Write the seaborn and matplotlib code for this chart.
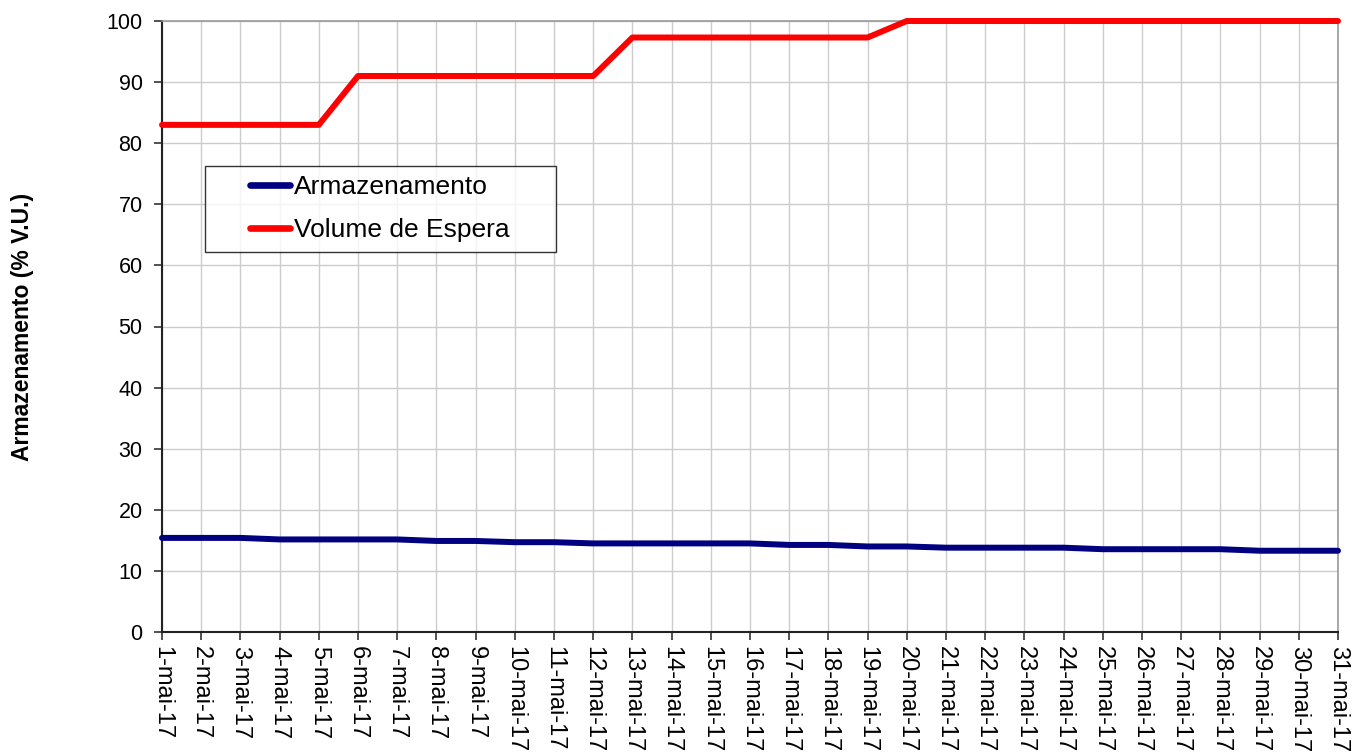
import pandas as pd
import matplotlib
matplotlib.use("Agg")
import matplotlib.pyplot as plt
from matplotlib.legend_handler import HandlerLine2D
import seaborn as sns

# daily values, May 2017
days = list(range(1, 32))
day_labels = [f"{d}-mai-17" for d in days]

armazenamento = [15.4, 15.4, 15.4, 15.15, 15.15, 15.15, 15.15, 14.9, 14.9, 14.7,
                 14.7, 14.5, 14.5, 14.5, 14.5, 14.5, 14.25, 14.25, 14.0, 14.0,
                 13.8, 13.8, 13.8, 13.8, 13.55, 13.55, 13.55, 13.55, 13.3, 13.3, 13.3]

volume_espera = [83, 83, 83, 83, 83, 91, 91, 91, 91, 91,
                 91, 91, 97.3, 97.3, 97.3, 97.3, 97.3, 97.3, 97.3, 100,
                 100, 100, 100, 100, 100, 100, 100, 100, 100, 100, 100]

df = pd.DataFrame({"dia": days * 2,
                   "valor": armazenamento + volume_espera,
                   "serie": ["Armazenamento"] * 31 + ["Volume de Espera"] * 31})

sns.set_style("white")
plt.rcParams["font.family"] = ["Liberation Sans", "DejaVu Sans"]
plt.rcParams["text.color"] = "black"
plt.rcParams["xtick.color"] = "black"
plt.rcParams["ytick.color"] = "black"
plt.rcParams["axes.labelcolor"] = "black"

fig = plt.figure(figsize=(13.7, 7.54), dpi=100)
ax = fig.add_axes([162 / 1370, 1 - 632 / 754, 1176 / 1370, 611 / 754])

sns.lineplot(data=df, x="dia", y="valor", hue="serie",
             palette={"Armazenamento": "#000080", "Volume de Espera": "#ff0000"},
             linewidth=4.3, ax=ax, clip_on=False, zorder=3)

ax.set_xlim(1, 31)
ax.set_ylim(0, 100)
ax.set_xticks(days)
ax.set_xticklabels(day_labels, rotation=-90, fontsize=17, va="top", ha="center")
ax.set_yticks(range(0, 101, 10))
ax.tick_params(axis="y", labelsize=15.5, length=6, width=1.2, direction="out", left=True, color="#333333", pad=8)
ax.tick_params(axis="x", length=6, width=1.2, direction="out", bottom=True, color="#333333", pad=4)

ax.grid(True, color="#cccccc", linewidth=1)
ax.set_axisbelow(True)
for s in ["left", "bottom"]:
    ax.spines[s].set_color("#222222")
    ax.spines[s].set_linewidth(1.5)
for s in ["top", "right"]:
    ax.spines[s].set_color("#999999")
    ax.spines[s].set_linewidth(1.2)

ax.set_xlabel("")
ax.set_ylabel("Armazenamento (% V.U.)", fontsize=16.5, fontweight="bold", labelpad=52)

handles, labels = ax.get_legend_handles_labels()
leg = ax.legend(handles, labels, loc="upper left",
                bbox_to_anchor=(0.0366, 0.5, 0.2985, 0.2627), mode="expand",
                fontsize=19, frameon=True, fancybox=False,
                handlelength=2.85, handletextpad=0.15,
                borderpad=0.36, labelspacing=0.72, borderaxespad=0,
                handler_map={h: HandlerLine2D(xpad=1.33) for h in handles})
leg.get_frame().set_edgecolor("black")
leg.get_frame().set_linewidth(1.0)
for line in leg.get_lines():
    line.set_linewidth(4.8)

fig.savefig("out.png", dpi=100)
